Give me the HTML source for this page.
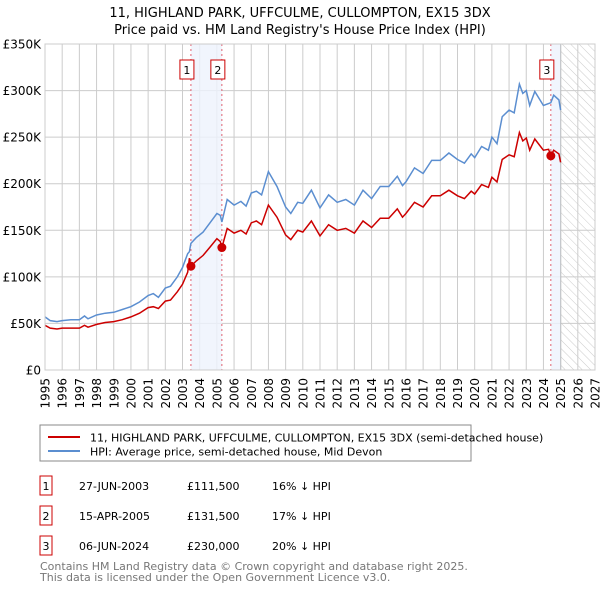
<!DOCTYPE html>
<html><head><meta charset="utf-8"><style>
body{margin:0;background:#fff;width:600px;height:590px;overflow:hidden;font-family:"DejaVu Sans","Liberation Sans",sans-serif}
svg text{font-family:"DejaVu Sans","Liberation Sans",sans-serif}
</style></head><body>
<svg id="c" width="600" height="590" xmlns="http://www.w3.org/2000/svg">
<defs><pattern id="hatch" width="6" height="6" patternUnits="userSpaceOnUse" patternTransform="rotate(-45)"><line x1="0" y1="0" x2="0" y2="6" stroke="#ccc" stroke-width="1"/></pattern></defs>
<text x="300" y="17" text-anchor="middle" font-size="13" fill="#000">11, HIGHLAND PARK, UFFCULME, CULLOMPTON, EX15 3DX</text>
<text x="300" y="34" text-anchor="middle" font-size="13" fill="#000">Price paid vs. HM Land Registry's House Price Index (HPI)</text>
<g id="grid"></g><g id="bands"></g><g id="series"></g><g id="axes"></g>
<rect x="40" y="425" width="431" height="36" fill="#fff" stroke="#888"/>
<line x1="48" y1="437" x2="80" y2="437" stroke="#cc0000" stroke-width="2"/>
<text x="90" y="441.5" font-size="11">11, HIGHLAND PARK, UFFCULME, CULLOMPTON, EX15 3DX (semi-detached house)</text>
<line x1="48" y1="451" x2="80" y2="451" stroke="#5b8ed0" stroke-width="2"/>
<text x="90" y="455.5" font-size="11">HPI: Average price, semi-detached house, Mid Devon</text>
<g id="table"></g>
<text x="40" y="570" font-size="11" fill="#777">Contains HM Land Registry data © Crown copyright and database right 2025.</text>
<text x="40" y="581" font-size="11" fill="#777">This data is licensed under the Open Government Licence v3.0.</text>
</svg>
<script>
const dates=[1995.0,1995.3,1995.7,1996.0,1996.5,1997.0,1997.3,1997.5,1998.0,1998.5,1999.0,1999.5,2000.0,2000.5,2001.0,2001.3,2001.6,2002.0,2002.3,2002.7,2003.0,2003.3,2003.4,2003.49,2003.8,2004.2,2004.6,2005.0,2005.2,2005.29,2005.6,2006.0,2006.4,2006.7,2007.0,2007.3,2007.6,2008.0,2008.5,2009.0,2009.3,2009.7,2010.0,2010.5,2011.0,2011.5,2012.0,2012.5,2013.0,2013.5,2014.0,2014.5,2015.0,2015.5,2015.8,2016.0,2016.5,2017.0,2017.5,2018.0,2018.5,2019.0,2019.4,2019.8,2020.0,2020.4,2020.8,2021.0,2021.3,2021.6,2022.0,2022.3,2022.6,2022.8,2023.0,2023.2,2023.5,2024.0,2024.3,2024.43,2024.6,2024.9,2025.0];
const hpiValues=[57,53,52,53,54,54,58,55,59,61,62,65,68,73,80,82,78,88,90,100,110,125,127,136,142,148,158,168,166,159,183,177,181,176,190,192,188,213,197,175,168,180,179,193,174,188,180,183,177,193,184,197,197,208,198,202,217,211,225,225,233,226,222,232,228,240,236,250,243,272,279,276,307,297,300,284,299,284,286,287,295,290,279];
const paidValues=[48,45,44,45,45,45,48,46,49,51,52,54,57,61,67,68,66,74,75,84,92,105,120,111.5,117,123,132,141,138,131.5,152,147,150,146,158,160,156,177,164,145,140,150,148,160,144,156,150,152,147,160,153,163,163,173,164,168,180,175,187,187,193,187,184,192,189,199,196,207,202,226,231,229,255,246,249,236,248,236,237,230,236,232,223];
const saleDates=[2003.49,2005.29,2024.43];
const salePrices=[111.5,131.5,230];
const saleLabels=["1","2","3"];
const saleDateText=["27-JUN-2003","15-APR-2005","06-JUN-2024"];
const salePriceText=["£111,500","£131,500","£230,000"];
const saleDiffText=["16% ↓ HPI","17% ↓ HPI","20% ↓ HPI"];
const yTicks=[0,50,100,150,200,250,300,350];
const yTickLabels=["£0","£50K","£100K","£150K","£200K","£250K","£300K","£350K"];
const xTicks=[];for(let y=1995;y<=2027;y++)xTicks.push(y);
const X0=45,X1=595,Y0=370,Y1=44;
const xs=t=>X0+(t-1995)/(2027-1995)*(X1-X0);
const ys=v=>Y0-v/350*(Y0-Y1);
const NS="http://www.w3.org/2000/svg";
function mk(tag,attrs,parent,txt){const e=document.createElementNS(NS,tag);for(const k in attrs)e.setAttribute(k,attrs[k]);if(txt!==undefined)e.textContent=txt;parent.appendChild(e);return e;}
const grid=document.getElementById('grid'),bands=document.getElementById('bands'),series=document.getElementById('series'),axes=document.getElementById('axes'),table=document.getElementById('table');
xTicks.forEach(t=>{const l=mk('line',{x1:xs(t),x2:xs(t),y1:Y1,y2:Y0,stroke:'#ccc','stroke-width':1},grid);


const tx=mk('text',{x:0,y:0,'font-size':12,'text-anchor':'end',transform:`translate(${xs(t)+4.5},${Y0+8}) rotate(-90)`},axes,String(t));

});
yTicks.forEach((v,i)=>{const l=mk('line',{x1:X0,x2:X1,y1:ys(v),y2:ys(v),stroke:'#ccc','stroke-width':1},grid);


const tx=mk('text',{x:41,y:ys(v)+4.5,'font-size':12,'text-anchor':'end'},axes,yTickLabels[i]);

});
const last=dates[dates.length-1];
const h=mk('rect',{x:xs(last),y:Y1,width:X1-xs(last),height:Y0-Y1,fill:'url(#hatch)'},bands);


const hl=mk('line',{x1:xs(last),x2:xs(last),y1:Y1,y2:Y0,stroke:'#999','stroke-width':1},bands);


const b1=mk('rect',{x:xs(saleDates[0]),y:Y1,width:xs(saleDates[1])-xs(saleDates[0]),height:Y0-Y1,fill:'#eef3fc',opacity:0.8},bands);


const b2=mk('rect',{x:xs(saleDates[2]),y:Y1,width:xs(last)-xs(saleDates[2]),height:Y0-Y1,fill:'#eef3fc',opacity:0.8},bands);


saleDates.forEach((d,i)=>{const l=mk('line',{x1:xs(d),x2:xs(d),y1:Y1,y2:Y0,stroke:'#e06070','stroke-width':1,'stroke-dasharray':'2,3'},bands);


const r=mk('rect',{x:xs(d)-11,y:60,width:14,height:19,fill:'#fff',stroke:'#cc0000','stroke-width':1},bands);


const t=mk('text',{x:xs(d)-4,y:74,'font-size':11,'text-anchor':'middle'},bands,saleLabels[i]);

});
const ptsH=dates.map((d,i)=>xs(d).toFixed(1)+','+ys(hpiValues[i]).toFixed(1)).join(' ');
const ph=mk('polyline',{points:ptsH,fill:'none',stroke:'#5b8ed0','stroke-width':1.5},series);


const ptsP=dates.map((d,i)=>xs(d).toFixed(1)+','+ys(paidValues[i]).toFixed(1)).join(' ');
const pp=mk('polyline',{points:ptsP,fill:'none',stroke:'#cc0000','stroke-width':1.5},series);


saleDates.forEach((d,i)=>{const c=mk('circle',{cx:xs(d),cy:ys(salePrices[i]),r:4.5,fill:'#cc0000'},series);

});
const fr=mk('rect',{x:X0,y:Y1,width:X1-X0,height:Y0-Y1,fill:'none',stroke:'#ccc'},axes);


saleLabels.forEach((s,i)=>{const y=476+i*30;
const r=mk('rect',{x:40,y:y,width:12,height:19,fill:'#fff',stroke:'#cc0000'},table);


const a=mk('text',{x:46,y:y+14,'font-size':11,'text-anchor':'middle'},table,s);


const b=mk('text',{x:79,y:y+14,'font-size':11},table,saleDateText[i]);


const c=mk('text',{x:187,y:y+14,'font-size':11},table,salePriceText[i]);


const e=mk('text',{x:272,y:y+14,'font-size':11},table,saleDiffText[i]);

});
</script>
</body></html>
